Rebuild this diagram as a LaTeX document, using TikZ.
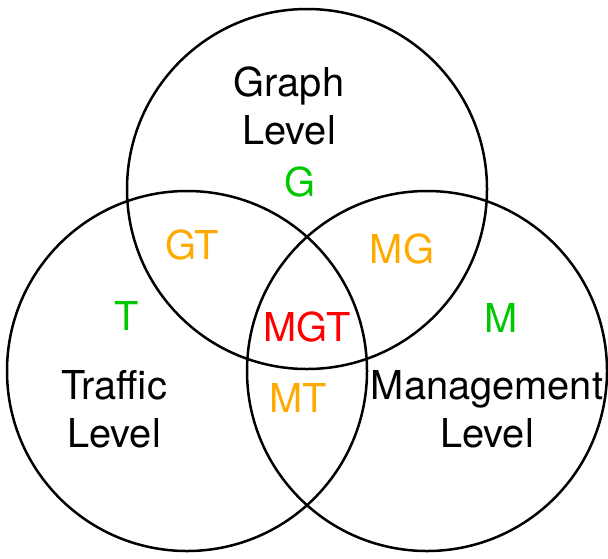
\documentclass[tikz,border=0pt]{standalone}
\usepackage{fontspec}
\setmainfont{TeX Gyre Heros}
\begin{document}
\begin{tikzpicture}[x=0.5pt,y=-0.5pt,
  set/.style={draw=black,line width=1.25pt},
  lbl/.style={font=\fontsize{19.9}{24}\selectfont,align=center,inner sep=0pt},
  single/.style={lbl,text={rgb,255:red,0;green,200;blue,0}},
  pair/.style={lbl,text={rgb,255:red,255;green,170;blue,0}},
  triple/.style={lbl,text={rgb,255:red,255;green,0;blue,0}}]
\useasboundingbox (0,0) rectangle (608,558);
% set centres
\coordinate (cg) at (307,189);
\coordinate (ct) at (187,371);
\coordinate (cm) at (427,371);
% the three sets
\draw[set] (cg) circle[radius=90pt];
\draw[set] (ct) circle[radius=90pt];
\draw[set] (cm) circle[radius=90pt];
% set names
\node[lbl] (gname) at (289,106) {Graph\\Level};
\node[lbl] (tname) at (114,409) {Traffic\\Level};
\node[lbl] (mname) at (487,409) {Management\\Level};
% region labels
\node[single] (g) at (300,182) {G};
\node[single] (t) at (127,316) {T};
\node[single] (m) at (501,318) {M};
\node[pair] (gt) at (192,245) {GT};
\node[pair] (mg) at (402,249) {MG};
\node[pair] (mt) at (298,398) {MT};
\node[triple] (mgt) at (307,327) {MGT};
\end{tikzpicture}
\end{document}
